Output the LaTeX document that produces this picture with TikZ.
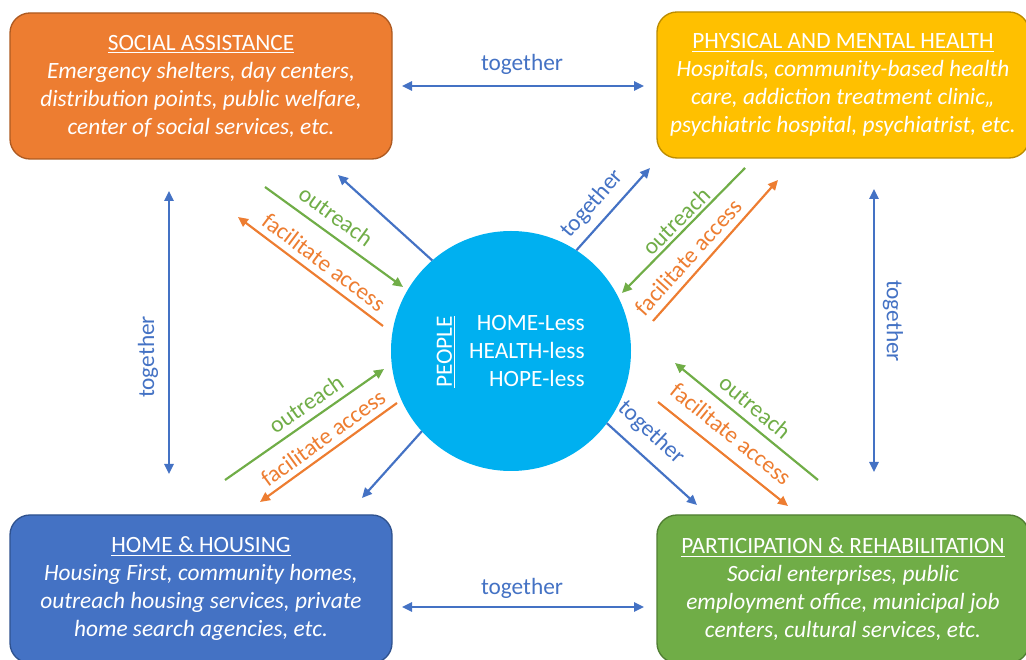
\documentclass[tikz,border=0pt]{standalone}
\usepackage{fontspec}
\setmainfont{Carlito}
\usetikzlibrary{arrows.meta}
\definecolor{cblue}{HTML}{4472C4}
\definecolor{cblueD}{HTML}{2F528F}
\definecolor{corange}{HTML}{ED7D31}
\definecolor{corangeD}{HTML}{AE5A21}
\definecolor{cyellow}{HTML}{FFC000}
\definecolor{cyellowD}{HTML}{BC8C00}
\definecolor{cgreen}{HTML}{70AD47}
\definecolor{cgreenD}{HTML}{507E32}
\definecolor{ccyan}{HTML}{00B0F0}
\begin{document}
\begin{tikzpicture}[x=0.6pt,y=-0.6pt,
  txt/.style={font=\fontsize{14}{16.8}\selectfont, inner sep=0pt},
  box/.style={txt, rounded corners=12pt, minimum height=87.6pt, line width=0.8pt, text=white, align=center},
  lbox/.style={box, minimum width=229.2pt},
  rbox/.style={box, minimum width=223.2pt},
  arr/.style={line width=1.3pt, -{Triangle[length=6pt,width=5.5pt]}},
  darr/.style={line width=1.3pt, {Triangle[length=6pt,width=5.5pt]}-{Triangle[length=6pt,width=5.5pt]}},
  tog/.style={txt, text=cblue},
  outr/.style={txt, text=cgreen},
  facil/.style={txt, text=corange}]
\useasboundingbox (0,0) rectangle (1026,660);
\clip (0,0) rectangle (1026,660);

% boxes
\node[lbox, fill=corange, draw=corangeD] (sa) at (201,86)
  {\underline{SOCIAL ASSISTANCE}\\ \itshape Emergency shelters, day centers,\\ \itshape distribution points, public welfare,\\ \itshape center of social services, etc.};
\node[rbox, fill=cyellow, draw=cyellowD] (pmh) at (843,85)
  {\underline{PHYSICAL AND MENTAL HEALTH}\\ \itshape Hospitals, community-based health\\ \itshape care, addiction treatment clinic,,\\ \itshape psychiatric hospital, psychiatrist, etc.};
\node[lbox, fill=cblue, draw=cblueD, minimum height=88.8pt] (hh) at (201,589)
  {\underline{HOME \& HOUSING}\\ \itshape Housing First, community homes,\\ \itshape outreach housing services, private\\ \itshape home search agencies, etc.};
\node[rbox, fill=cgreen, draw=cgreenD, minimum height=88.8pt] (pr) at (843,589)
  {\underline{PARTICIPATION \& REHABILITATION}\\ \itshape Social enterprises, public\\ \itshape employment office, municipal job\\ \itshape centers, cultural services, etc.};

% central circle
\node[circle, fill=ccyan, minimum size=144pt, inner sep=0pt, outer sep=0pt] (ppl) at (511,351) {};
\node[txt, text=white, rotate=90] (plabel) at (446,352) {\underline{PEOPLE}};
\node[txt, text=white, align=right, anchor=east] (ptext) at (585,351) {HOME-Less\\HEALTH-less\\HOPE-less};

% horizontal and vertical "together"
\coordinate (t1a) at (402,86); \coordinate (t1b) at (644,86);
\draw[darr, cblue] (t1a) -- (t1b);
\node[tog] (t1l) at (522,64) {together};
\coordinate (t2a) at (402,607); \coordinate (t2b) at (644,607);
\draw[darr, cblue] (t2a) -- (t2b);
\node[tog] (t2l) at (522,588) {together};
\coordinate (t3a) at (169,191); \coordinate (t3b) at (169,474);
\draw[darr, cblue] (t3a) -- (t3b);
\node[tog, rotate=90] (t3l) at (148,357) {together};
\coordinate (t4a) at (874,189); \coordinate (t4b) at (874,472);
\draw[darr, cblue] (t4a) -- (t4b);
\node[tog, rotate=-90] (t4l) at (893,321) {together};

% upper-left
\coordinate (ulb) at (338,175);
\draw[arr, cblue] (ppl.131) -- (ulb);
\coordinate (ulg1) at (265,187); \coordinate (ulg2) at (403,287);
\draw[arr, cgreen] (ulg1) -- (ulg2);
\node[outr, rotate=-36] (ulgl) at (336,216) {outreach};
\coordinate (ulo1) at (383,326); \coordinate (ulo2) at (238,217);
\draw[arr, corange] (ulo1) -- (ulo2);
\node[facil, rotate=-37] (ulol) at (324,262) {facilitate access};

% lower-left
\coordinate (llb) at (362,498);
\draw[arr, cblue] (ppl.222) -- (llb);
\coordinate (llg1) at (225,480); \coordinate (llg2) at (384,369);
\draw[arr, cgreen] (llg1) -- (llg2);
\node[outr, rotate=35] (llgl) at (306,404) {outreach};
\coordinate (llo1) at (397,403); \coordinate (llo2) at (260,502);
\draw[arr, corange] (llo1) -- (llo2);
\node[facil, rotate=36] (llol) at (323,438) {facilitate access};

% upper-right
\coordinate (urb) at (650,168);
\draw[arr, cblue] (ppl.57) -- (urb);
\node[tog, rotate=49] (urbl) at (592,204) {together};
\coordinate (urg1) at (745,168); \coordinate (urg2) at (622,293);
\draw[arr, cgreen] (urg1) -- (urg2);
\node[outr, rotate=45] (urgl) at (676,221) {outreach};
\coordinate (uro1) at (653,321); \coordinate (uro2) at (778,180);
\draw[arr, corange] (uro1) -- (uro2);
\node[facil, rotate=48] (urol) at (688,257) {facilitate access};

% lower-right
\coordinate (lrb) at (697,505);
\draw[arr, cblue] (ppl.323) -- (lrb);
\node[tog, rotate=-43] (lrbl) at (651,433) {together};
\coordinate (lrg1) at (818,480); \coordinate (lrg2) at (675,363);
\draw[arr, cgreen] (lrg1) -- (lrg2);
\node[outr, rotate=-40] (lrgl) at (755,407) {outreach};
\coordinate (lro1) at (658,402); \coordinate (lro2) at (788,506);
\draw[arr, corange] (lro1) -- (lro2);
\node[facil, rotate=-39] (lrol) at (731,434) {facilitate access};
\end{tikzpicture}
\end{document}
